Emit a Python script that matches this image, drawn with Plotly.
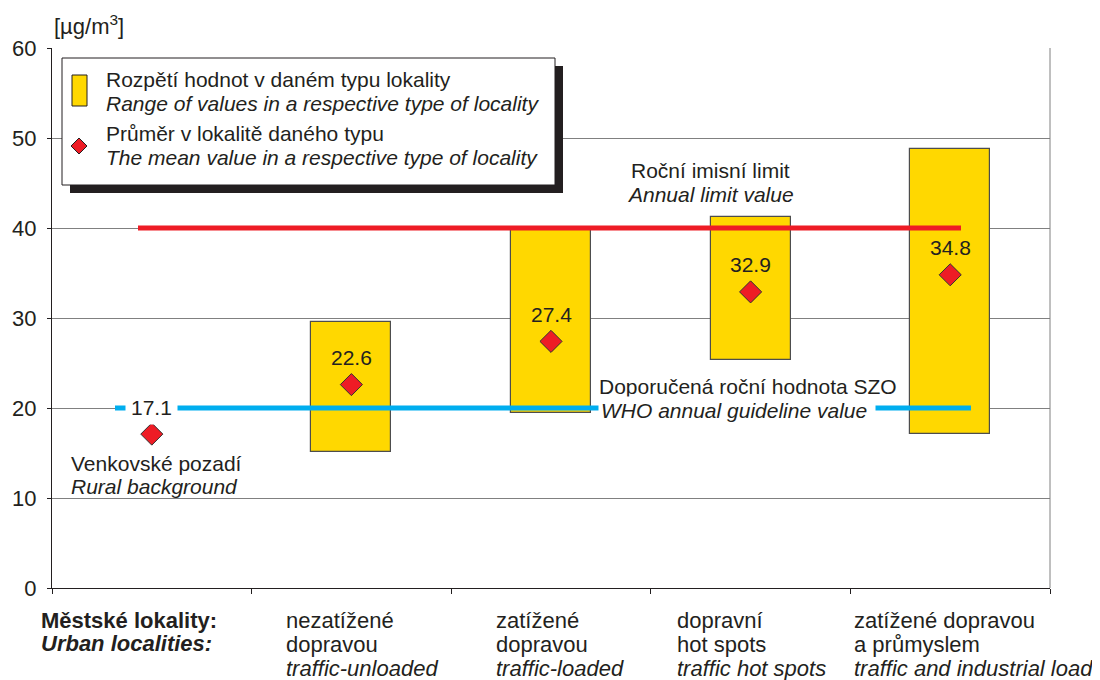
import plotly.graph_objects as go

# data
positions = [0.5, 1.5, 2.5, 3.5, 4.5]
range_low = [None, 15.1, 19.5, 25.3, 17.1]
range_high = [None, 29.6, 40.0, 41.2, 48.8]
mean_values = [17.1, 22.6, 27.4, 32.9, 34.8]
mean_labels = ["17.1", "22.6", "27.4", "32.9", "34.8"]
y_ticks = [0, 10, 20, 30, 40, 50, 60]

annual_limit = 40
who_guideline = 20

cat_labels = [
    ["nezatížené", "dopravou", "<i>traffic-unloaded</i>"],
    ["zatížené", "dopravou", "<i>traffic-loaded</i>"],
    ["dopravní", "hot spots", "<i>traffic hot spots</i>"],
    ["zatížené dopravou", "a průmyslem", "<i>traffic and industrial load</i>"],
]
cat_label_left = [285, 495, 676, 853]

YELLOW = "#FFD800"
RED = "#EE1C25"
BLUE = "#00AEEF"
INK = "#231F20"
FONT = "Liberation Sans, Arial, sans-serif"

# page is 1100x680 but the plot div sits 8px in from the page corner
OFF = 8
W, H = 1100 - OFF, 680 - OFF
PLOT_L, PLOT_R, PLOT_T, PLOT_B = 52, 1050, 48, 588   # page pixels
L, R, T, B = PLOT_L - OFF, W - (PLOT_R - OFF), PLOT_T - OFF, H - (PLOT_B - OFF)


def px(x):
    return (x - PLOT_L) / (PLOT_R - PLOT_L)


def py(y):
    return (PLOT_B - y) / (PLOT_B - PLOT_T)


def xd(x):
    # page pixel -> x data (range 0..5)
    return 5 * px(x)


fig = go.Figure()

bar_x = [p for p, lo in zip(positions, range_low) if lo is not None]
bar_base = [lo for lo in range_low if lo is not None]
bar_len = [hi - lo for hi, lo in zip(range_high, range_low) if lo is not None]
fig.add_trace(go.Bar(
    x=bar_x, y=bar_len, base=bar_base, width=0.4,
    marker=dict(color=YELLOW, line=dict(color="#4D4D4D", width=1.2)),
    showlegend=False, hoverinfo="skip",
))

# reference lines
fig.add_trace(go.Scatter(
    x=[xd(138), xd(961)], y=[annual_limit, annual_limit], mode="lines",
    line=dict(color=RED, width=5), showlegend=False, hoverinfo="skip",
))
fig.add_trace(go.Scatter(
    x=[xd(115), xd(971)], y=[who_guideline, who_guideline], mode="lines",
    line=dict(color=BLUE, width=5), showlegend=False, hoverinfo="skip",
))

# means
fig.add_trace(go.Scatter(
    x=positions, y=mean_values, mode="markers",
    marker=dict(symbol="diamond", size=17, color=RED, line=dict(color="#333333", width=1)),
    showlegend=False, hoverinfo="skip",
))

annotations = []
for i, (x, y, t) in enumerate(zip(positions, mean_values, mean_labels)):
    annotations.append(dict(
        x=x, y=y, xref="x", yref="y", text=t, showarrow=False, yshift=27,
        font=dict(size=21, color=INK),
        bgcolor="white" if i == 0 else None, borderpad=5 if i == 0 else 0,
    ))


def text_at(x, y, text, size=21, anchor="left", bg=None, pad=0):
    annotations.append(dict(
        x=px(x), y=py(y), xref="paper", yref="paper", xanchor=anchor, yanchor="middle",
        showarrow=False, font=dict(size=size, color=INK), text=text,
        bgcolor=bg, borderpad=pad,
    ))


text_at(70, 463, "Venkovské pozadí")
text_at(70, 486, "<i>Rural background</i>")
text_at(710, 170, "Roční imisní limit", anchor="center")
text_at(710, 194, "<i>Annual limit value</i>", anchor="center")
text_at(598, 386, "Doporučená roční hodnota SZO")
text_at(598, 410, "<i>WHO annual guideline value</i>\u00a0", bg="white", pad=2)
text_at(53, 25, "[µg/m<sup>3</sup>]", size=22)
text_at(40, 620, "<b>Městské lokality:</b>", size=22)
text_at(40, 643, "<b><i>Urban localities:</i></b>", size=22)
# legend texts
text_at(105, 80, "Rozpětí hodnot v daném typu lokality")
text_at(105, 103, "<i>Range of values in a respective type of locality</i>")
text_at(105, 134, "Průměr v lokalitě daného typu")
text_at(105, 157, "<i>The mean value in a respective type of locality</i>")

for x, lines in zip(cat_label_left, cat_labels):
    for j, t in enumerate(lines):
        text_at(x, 620 + 24 * j, t, size=22)

shapes = [
    # right border
    dict(type="line", xref="paper", yref="paper", x0=1, x1=1, y0=0, y1=1,
         line=dict(color="#808080", width=1)),
    # legend shadow and box
    dict(type="rect", xref="paper", yref="paper", x0=px(70), x1=px(563), y0=py(193), y1=py(66),
         fillcolor=INK, line=dict(width=0), layer="above"),
    dict(type="rect", xref="paper", yref="paper", x0=px(62), x1=px(555), y0=py(185), y1=py(58),
         fillcolor="white", line=dict(color=INK, width=1), layer="above"),
    dict(type="rect", xref="paper", yref="paper", x0=px(72), x1=px(87), y0=py(106), y1=py(75),
         fillcolor=YELLOW, line=dict(color=INK, width=1), layer="above"),
    dict(type="path", xref="paper", yref="paper", layer="above",
         path="M {a},{b} L {c},{d} L {a},{e} L {f},{d} Z".format(
             a=px(79), b=py(138), c=px(87), d=py(146), e=py(154), f=px(71)),
         fillcolor=RED, line=dict(color=INK, width=1)),
]

fig.update_layout(
    width=W, height=H,
    margin=dict(l=L, r=R, t=T, b=B, autoexpand=False),
    plot_bgcolor="white", paper_bgcolor="white",
    font=dict(family=FONT, size=21, color=INK),
    annotations=annotations, shapes=shapes,
    xaxis=dict(range=[0, 5], tickvals=[0, 1, 2, 3, 4, 5], showticklabels=False,
               ticks="outside", ticklen=5, tickcolor=INK,
               showline=True, linecolor=INK, linewidth=1,
               showgrid=False, zeroline=False, fixedrange=True),
    yaxis=dict(range=[0, 60], tickvals=y_ticks, ticks="outside", ticklen=4,
               tickcolor=INK, tickfont=dict(size=22), automargin=False,
               ticklabelstandoff=6,
               showline=True, linecolor=INK, linewidth=1,
               showgrid=True, gridcolor="#808080", gridwidth=1, zeroline=False),
    bargap=0,
)

fig.write_html("out.html")
